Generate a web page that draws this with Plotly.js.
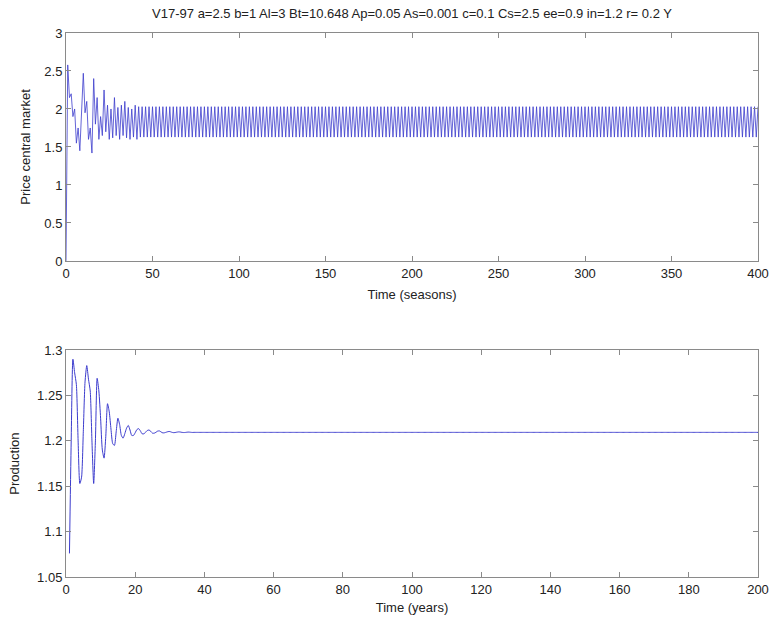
<!DOCTYPE html>
<html>
<head>
<meta charset="utf-8">
<script src="https://cdn.plot.ly/plotly-3.0.1.min.js"></script>
<style>html,body{margin:0;padding:0;background:#fff;}#chart{width:773px;height:626px;}</style>
</head>
<body>
<div id="chart"></div>
<script>
// ---- Data ----
const titleText = "V17-97 a=2.5 b=1 Al=3 Bt=10.648 Ap=0.05 As=0.001 c=0.1 Cs=2.5 ee=0.9 in=1.2 r= 0.2 Y";

// Price central market: transient part, seasons 0..41
const priceTransient = [0.0, 2.58, 2.15, 2.2, 1.9, 2.0, 1.55, 1.75, 1.45, 2.0,
  2.47, 1.95, 2.1, 1.6, 1.75, 1.42, 2.4, 1.8, 2.15, 1.6,
  1.9, 1.65, 2.25, 1.7, 2.05, 1.6, 2.0, 1.62, 2.15, 1.65,
  2.02, 1.6, 2.05, 1.65, 2.1, 1.62, 2.02, 1.6, 2.0, 1.63,
  2.05, 1.6];
// Steady-state two-season cycle seen from season ~42 to 400
const priceCycle = [2.03, 1.63];
const seasonsEnd = 400;

// Production: transient part, every half year from year 1 to year 37
const prodTransient = [1.076, 1.200, 1.290, 1.275, 1.262, 1.200, 1.153, 1.160, 1.210, 1.265,
  1.283, 1.268, 1.255, 1.200, 1.153, 1.200, 1.269, 1.255, 1.225, 1.190,
  1.181, 1.205, 1.241, 1.232, 1.213, 1.197, 1.195, 1.210, 1.225, 1.218,
  1.206, 1.203, 1.208, 1.214, 1.217, 1.212, 1.206, 1.206, 1.209, 1.2125,
  1.2135, 1.211, 1.2078, 1.2078, 1.2095, 1.2115, 1.212, 1.2105, 1.2085, 1.2085,
  1.2095, 1.2108, 1.211, 1.2098, 1.2088, 1.209, 1.2096, 1.2102, 1.2103, 1.2096,
  1.2091, 1.2092, 1.2096, 1.2099, 1.2098, 1.2094, 1.2092, 1.2093, 1.2096, 1.2097,
  1.2095, 1.2093, 1.2094];
const prodSteady = 1.2094;
const prodStart = 1;
const yearsEnd = 200;

// ---- Build series ----
const priceX = [], priceY = [];
for (let s = 0; s <= seasonsEnd; s++) {
  priceX.push(s);
  priceY.push(s < priceTransient.length ? priceTransient[s]
    : priceCycle[(s - priceTransient.length) % priceCycle.length]);
}
const prodX = [], prodY = [];
for (let i = 0; prodStart + i * 0.5 <= yearsEnd; i++) {
  prodX.push(prodStart + i * 0.5);
  prodY.push(i < prodTransient.length ? prodTransient[i] : prodSteady);
}

const lineStyle = {color: 'rgb(60,60,205)', width: 0.8};
const font = {family: 'Liberation Sans, Arial, sans-serif', size: 13, color: '#222'};

const axCommon = {
  showgrid: false, zeroline: false, showline: true, mirror: 'ticks',
  linecolor: '#8a8a8a', linewidth: 1, ticks: 'inside', ticklen: 5,
  tickcolor: '#8a8a8a', tickfont: font
};

const traces = [
  {x: priceX, y: priceY, type: 'scatter', mode: 'lines', line: lineStyle, xaxis: 'x', yaxis: 'y', hoverinfo: 'skip'},
  {x: prodX, y: prodY, type: 'scatter', mode: 'lines', line: Object.assign({}, lineStyle, {width: 1, shape: 'spline', smoothing: 0.6}), xaxis: 'x2', yaxis: 'y2', hoverinfo: 'skip'}
];

const layout = {
  width: 773, height: 626,
  margin: {l: 66, r: 15, t: 33, b: 49},
  paper_bgcolor: '#fff', plot_bgcolor: '#fff',
  showlegend: false,
  font: font,
  title: {text: titleText, font: {family: font.family, size: 13, color: '#222'},
          x: 0.533, xanchor: 'center', y: 0.985, yanchor: 'top'},
  xaxis: Object.assign({}, axCommon, {domain: [0, 1], anchor: 'y', range: [0, 400], dtick: 50, tick0: 0,
    title: {text: 'Time (seasons)', font: font, standoff: 10}}),
  yaxis: Object.assign({}, axCommon, {domain: [0.581, 1], anchor: 'x', range: [0, 3], dtick: 0.5, tick0: 0,
    title: {text: 'Price central market', font: font, standoff: 10}}),
  xaxis2: Object.assign({}, axCommon, {domain: [0, 1], anchor: 'y2', range: [0, 200], dtick: 20, tick0: 0,
    title: {text: 'Time (years)', font: font, standoff: 7}}),
  yaxis2: Object.assign({}, axCommon, {domain: [0, 0.417], anchor: 'x2', range: [1.05, 1.3], dtick: 0.05, tick0: 1.05,
    title: {text: 'Production', font: font, standoff: 14}})
};

Plotly.newPlot('chart', traces, layout, {staticPlot: true, displayModeBar: false});
</script>
</body>
</html>
